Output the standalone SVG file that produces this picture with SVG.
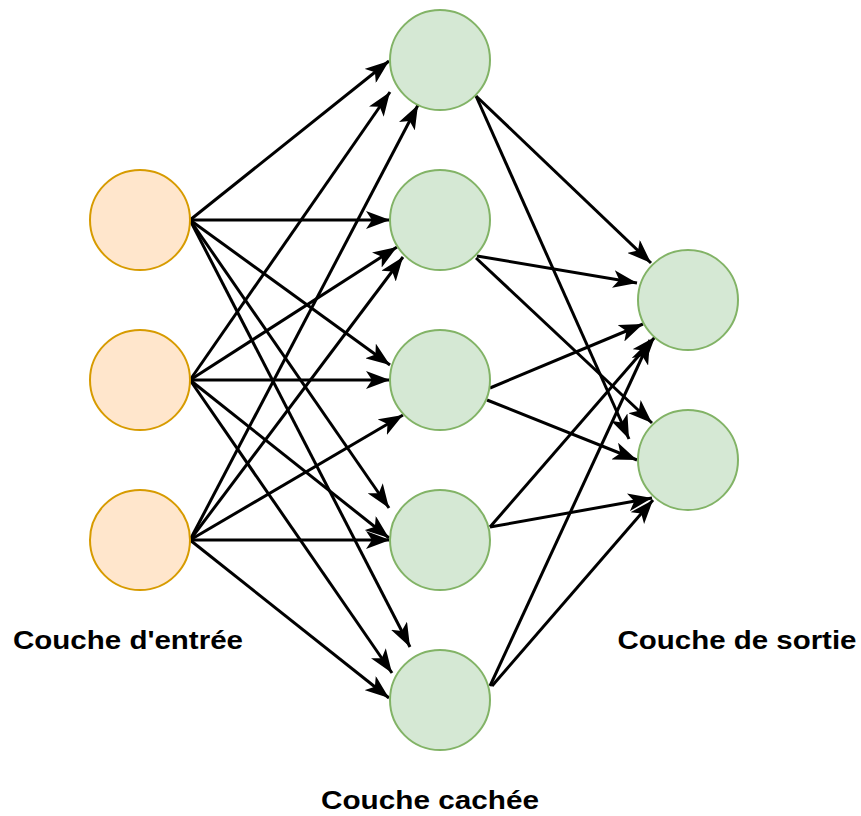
<svg xmlns="http://www.w3.org/2000/svg" width="861" height="816" viewBox="0 0 861 816">
<style>
.in{fill:#ffe6cc;stroke:#d79b00;stroke-width:2}
.hid{fill:#d5e8d4;stroke:#82b366;stroke-width:2}
.e line{stroke:#000;stroke-width:3;marker-end:url(#arr)}
.lbl{font-family:"Liberation Sans",Arial,sans-serif;font-weight:bold;font-size:26px;fill:#000;text-anchor:middle}
</style>
<defs>
<marker id="arr" markerUnits="userSpaceOnUse" viewBox="0 0 24 18" refX="24" refY="9" markerWidth="24" markerHeight="18" orient="auto">
<path d="M0,0 L24,9 L0,18 L6,9 Z" fill="#000"/>
</marker>
</defs>
<rect width="861" height="816" fill="#fff"/>
<g id="connectors" class="e">
<line x1="190" y1="220" x2="389" y2="61"/>
<line x1="190" y1="220" x2="390" y2="220"/>
<line x1="190" y1="220" x2="390" y2="365"/>
<line x1="190" y1="220" x2="389" y2="508"/>
<line x1="190" y1="220" x2="410" y2="647"/>
<line x1="190" y1="380" x2="390" y2="92"/>
<line x1="190" y1="380" x2="397" y2="247"/>
<line x1="190" y1="380" x2="390" y2="380"/>
<line x1="190" y1="380" x2="389" y2="538"/>
<line x1="190" y1="380" x2="392" y2="673"/>
<line x1="190" y1="540" x2="418" y2="105"/>
<line x1="190" y1="540" x2="403" y2="257"/>
<line x1="190" y1="540" x2="403" y2="415"/>
<line x1="190" y1="540" x2="390" y2="540"/>
<line x1="190" y1="540" x2="389" y2="698"/>
<line x1="476" y1="96" x2="651" y2="263"/>
<line x1="476" y1="96" x2="629" y2="439"/>
<line x1="477" y1="256" x2="637" y2="283"/>
<line x1="476" y1="258" x2="652" y2="423"/>
<line x1="490" y1="388" x2="643" y2="324"/>
<line x1="487" y1="400" x2="637" y2="460"/>
<line x1="490" y1="527" x2="655" y2="337"/>
<line x1="490" y1="527" x2="652" y2="498"/>
<line x1="490" y1="686" x2="650" y2="340"/>
<line x1="492" y1="686" x2="653" y2="500"/>
</g>
<g id="in1"><circle class="in" cx="140" cy="220" r="50"/></g>
<g id="in2"><circle class="in" cx="140" cy="380" r="50"/></g>
<g id="in3"><circle class="in" cx="140" cy="540" r="50"/></g>
<g id="h1"><circle class="hid" cx="440" cy="60" r="50"/></g>
<g id="h2"><circle class="hid" cx="440" cy="220" r="50"/></g>
<g id="h3"><circle class="hid" cx="440" cy="380" r="50"/></g>
<g id="h4"><circle class="hid" cx="440" cy="540" r="50"/></g>
<g id="h5"><circle class="hid" cx="440" cy="700" r="50"/></g>
<g id="o1"><circle class="hid" cx="688" cy="300" r="50"/></g>
<g id="o2"><circle class="hid" cx="688" cy="460" r="50"/></g>
<g id="lbl-in"><text class="lbl" x="128" y="649" textLength="230" lengthAdjust="spacingAndGlyphs">Couche d'entrée</text></g>
<g id="lbl-hid"><text class="lbl" x="430" y="809" textLength="218" lengthAdjust="spacingAndGlyphs">Couche cachée</text></g>
<g id="lbl-out"><text class="lbl" x="737" y="649" textLength="239" lengthAdjust="spacingAndGlyphs">Couche de sortie</text></g>
</svg>
